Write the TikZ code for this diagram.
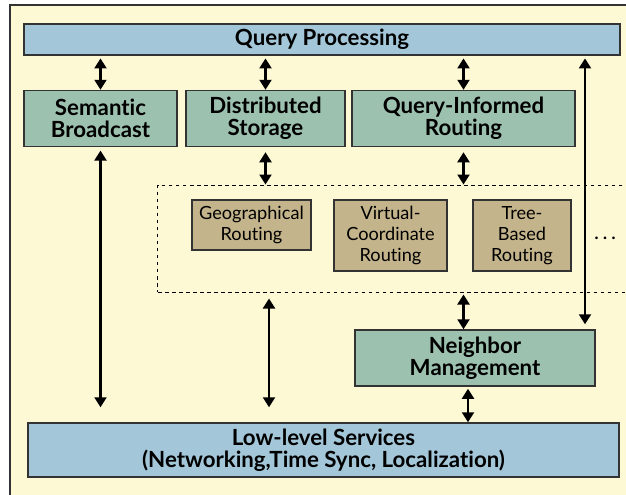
\documentclass[tikz,border=0pt]{standalone}
\usepackage{fontspec}
\setmainfont{Lato}[Ligatures=NoCommon]
\usetikzlibrary{arrows.meta}
\definecolor{paper}{HTML}{FEF9D5}
\definecolor{layerblue}{HTML}{A3C7D9}
\definecolor{servgreen}{HTML}{9CC1AF}
\definecolor{routebrown}{HTML}{C4B48B}
\definecolor{edge}{HTML}{333333}

\begin{document}
\begin{tikzpicture}[x=0.03cm,y=-0.03cm,
   layer/.style={draw=edge,line width=0.045cm,fill=layerblue,inner sep=0pt,align=center,
     font=\fontsize{19}{19}\selectfont\bfseries},
   service/.style={draw=edge,line width=0.045cm,fill=servgreen,inner sep=0pt,align=center,
     minimum height=1.68cm,font=\fontsize{19}{19}\selectfont\bfseries},
   routing/.style={draw=edge,line width=0.045cm,fill=routebrown,inner sep=0pt,align=center,
     font=\fontsize{15.5}{18}\selectfont},
   link/.style={{Triangle[length=0.3cm,width=0.36cm]}-{Triangle[length=0.3cm,width=0.36cm]},
     line width=0.065cm}]
   \clip (0,0) rectangle (626,494);
   \draw[fill=paper,draw=edge,line width=0.06cm] (10,5) rectangle (660,520);
   \node[layer,minimum width=17.88cm,minimum height=0.93cm] (qp) at (322,39.5) {Query Processing};
   \node[service,minimum width=4.59cm] (sb) at (100.5,118.5) {Semantic\\Broadcast};
   \node[service,minimum width=4.77cm] (ds) at (265.5,118.5) {Distributed\\Storage};
   \node[service,minimum width=6.69cm] (qir) at (463.5,118.5) {Query-Informed\\Routing};
   \node[draw,dashed,line width=0.03cm,minimum width=15.06cm,minimum height=3.21cm] (family) at (409,238.5) {};
   \node[routing,minimum width=3.57cm,minimum height=1.5cm] (geo) at (251.5,225) {Geographical\\Routing};
   \node[routing,minimum width=3.39cm,minimum height=2.13cm] (vc) at (390.5,235.5) {Virtual-\\Coordinate\\Routing};
   \node[routing,minimum width=2.94cm,minimum height=2.13cm] (tree) at (522,235.5) {Tree-\\Based\\Routing};
   \node[font=\fontsize{18}{18}\selectfont] (more) at (605,238) {.\,.\,.};
   \node[service,minimum width=7.2cm] (nm) at (475,358) {Neighbor\\Management};
   \node[layer,minimum width=17.73cm,minimum height=1.62cm] (lls) at (323.5,450)
     {Low-level Services\\(Networking,Time Sync, Localization)};
   \coordinate (rr) at (585,0);
   \draw[link,shorten <=0.08cm] (qp.south -| sb) -- (sb.north);
   \draw[link,shorten <=0.08cm] (qp.south -| ds) -- (ds.north);
   \draw[link,shorten <=0.08cm] (qp.south -| qir) -- (qir.north);
   \draw[link,shorten <=0.15cm] (ds.south) -- (family.north -| ds);
   \draw[link,shorten <=0.15cm] (qir.south) -- (family.north -| qir);
   \draw[link,shorten <=0.06cm] (family.south -| qir) -- (nm.north -| qir);
   \draw[link,shorten <=0.06cm] (nm.south -| 468,0) -- (lls.north -| 468,0);
   \draw[link,shorten <=0.1cm,shorten >=0.45cm] (sb.south) -- (lls.north -| sb);
   \draw[link,shorten <=0.18cm,shorten >=0.45cm] (family.south -| 269,0) -- (lls.north -| 269,0);
   \draw[link,shorten <=0.08cm,shorten >=0.15cm] (qp.south -| rr) -- (nm.north -| rr);
\end{tikzpicture}
\end{document}
